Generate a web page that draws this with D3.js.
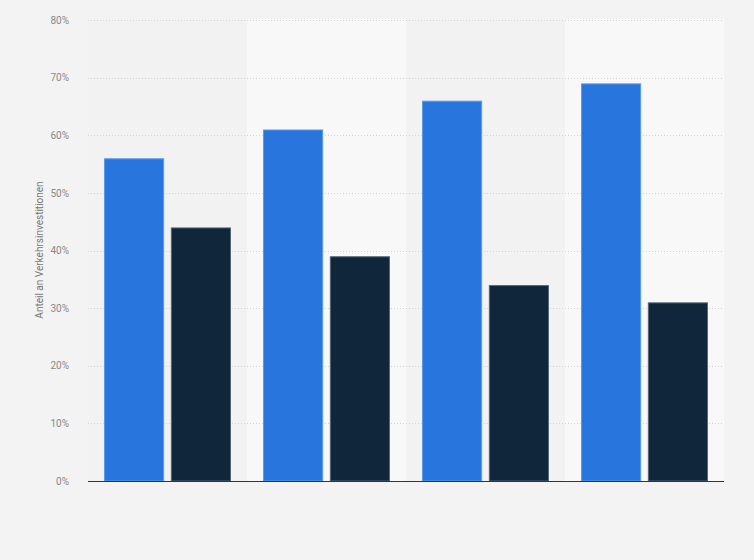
<!DOCTYPE html>
<html>
<head>
<meta charset="utf-8">
<script src="https://cdn.jsdelivr.net/npm/d3@7"></script>
<style>
  html, body { margin: 0; padding: 0; background: #f3f3f3; }
  svg { display: block; font-family: Roboto, "Noto Sans", sans-serif; }
</style>
</head>
<body>
<div id="chart"></div>
<script>
// Kategorien (ohne Beschriftung im Original) und Werte
const categories = ["A", "B", "C", "D"]
const seriesNames = ["Serie 1", "Serie 2"]
const series1 = [56, 61, 66, 69]
const series2 = [44, 39, 34, 31]
const yTicks = [0, 10, 20, 30, 40, 50, 60, 70, 80]

const width = 754, height = 560
const margin = { top: 19, right: 30, bottom: 79, left: 88 }

const svg = d3.select("#chart")
  .append("svg")
  .attr("width", width)
  .attr("height", height)

svg.append("rect")
  .attr("width", width)
  .attr("height", height)
  .attr("fill", "#f3f3f3")

const x = d3.scaleBand()
  .domain(categories)
  .range([margin.left, width - margin.right])

const xInner = d3.scaleBand()
  .domain(seriesNames)
  .range([0, x.bandwidth()])
  .paddingInner(0.1)
  .paddingOuter(0.24)

const y = d3.scaleLinear()
  .domain([0, 80])
  .range([height - margin.bottom, margin.top + 1])

// Hintergrundbänder
svg.append("g")
  .selectAll("rect")
  .data(categories)
  .join("rect")
  .attr("x", d => x(d))
  .attr("y", margin.top)
  .attr("width", x.bandwidth())
  .attr("height", y(0) - margin.top)
  .attr("fill", (d, i) => i % 2 ? "#f8f8f8" : "#f2f2f2")

// Gitternetz
svg.append("g")
  .selectAll("line")
  .data(yTicks.filter(t => t > 0))
  .join("line")
  .attr("x1", margin.left)
  .attr("x2", width - margin.right)
  .attr("y1", d => Math.round(y(d)) + 0.5)
  .attr("y2", d => Math.round(y(d)) + 0.5)
  .attr("stroke", "#d4d4d4")
  .attr("stroke-dasharray", "1,2")

// Y-Achse
const yAxis = svg.append("g")
  .attr("transform", `translate(${margin.left - 16},0)`)
  .call(d3.axisLeft(y).tickValues(yTicks).tickFormat(d => d + "%").tickSize(0))
yAxis.select(".domain").remove()
yAxis.selectAll("text")
  .attr("fill", "#888")
  .attr("font-size", 10)
  .attr("font-family", "Roboto, sans-serif")

svg.append("text")
  .attr("transform", `translate(43,${(margin.top + y(0)) / 2}) rotate(-90)`)
  .attr("text-anchor", "middle")
  .attr("fill", "#777")
  .attr("font-size", 10)
  .text("Anteil an Verkehrsinvestitionen")

// Balken
const rows = categories.map((c, i) => ({ cat: c, values: [series1[i], series2[i]] }))
const colors = ["#2876dd", "#10263b"]
const strokes = ["#5b9ae8", "#556577"]

svg.append("g")
  .selectAll("g")
  .data(rows)
  .join("g")
  .attr("transform", d => `translate(${x(d.cat)},0)`)
  .selectAll("rect")
  .data(d => d.values.map((v, j) => ({ name: seriesNames[j], v: v, j: j })))
  .join("rect")
  .attr("x", d => xInner(d.name) + 0.5)
  .attr("y", d => y(d.v) + 0.5)
  .attr("width", xInner.bandwidth() - 1)
  .attr("height", d => y(0) - y(d.v) - 0.5)
  .attr("fill", d => colors[d.j])
  .attr("stroke", d => strokes[d.j])
  .attr("stroke-width", 1)

// Grundlinie
svg.append("line")
  .attr("x1", margin.left)
  .attr("x2", width - margin.right)
  .attr("y1", y(0) + 0.5)
  .attr("y2", y(0) + 0.5)
  .attr("stroke", "#333")
  .attr("stroke-width", 1)
</script>
</body>
</html>
